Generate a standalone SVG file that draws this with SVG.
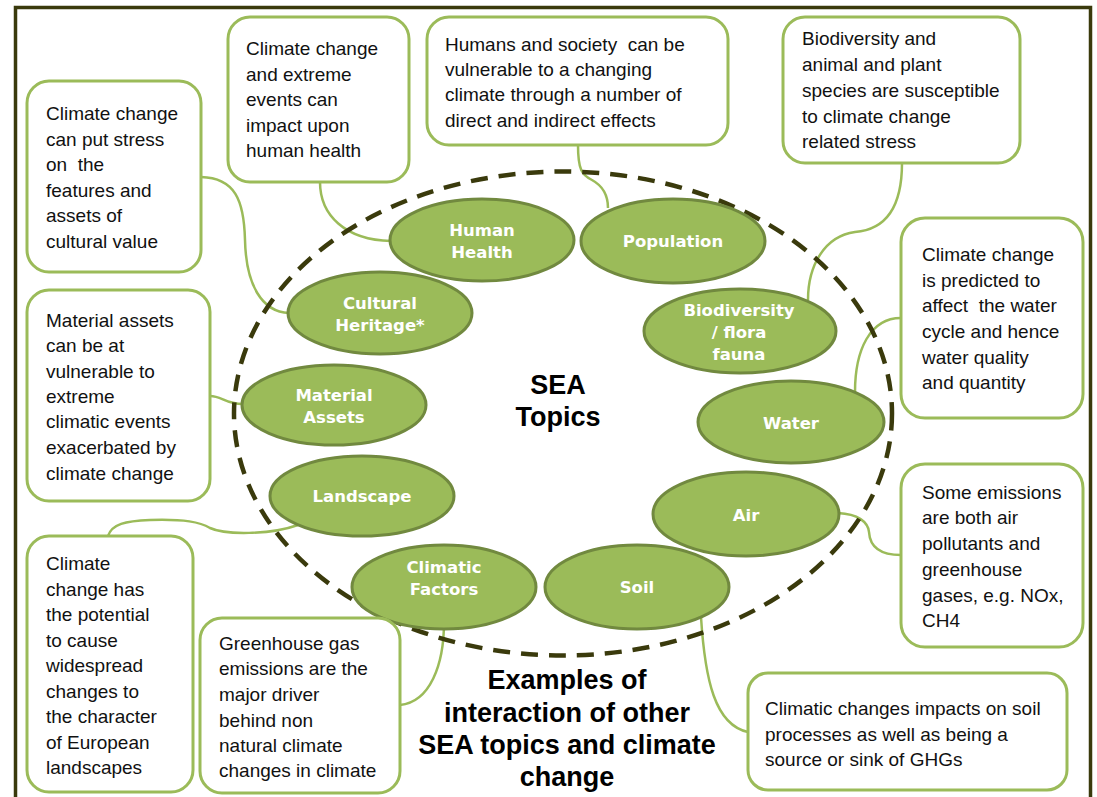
<svg xmlns="http://www.w3.org/2000/svg" width="1097" height="797" viewBox="0 0 1097 797">
  <style>
    .frame { fill: #ffffff; stroke: #3a3a0c; stroke-width: 3.5; }
    .ring { fill: none; stroke: #3a3a0c; stroke-width: 4.5; stroke-dasharray: 17 11; }
    .box { fill: #ffffff; stroke: #9bbb59; stroke-width: 3; }
    .topic { fill: #9bbb59; stroke: #71893f; stroke-width: 3; }
    .link { fill: none; stroke: #9bbb59; stroke-width: 2.5; }
    .note { font-family: "Liberation Sans", Arial, sans-serif; font-size: 19px; fill: #111111; dominant-baseline: central; }
    .label { font-family: "DejaVu Sans", Verdana, sans-serif; font-weight: bold; font-size: 16.5px; fill: #ffffff; text-anchor: middle; dominant-baseline: central; }
    .title { font-family: "Liberation Sans", Arial, sans-serif; font-weight: bold; font-size: 27px; fill: #000000; text-anchor: middle; dominant-baseline: central; }
  </style>

  <!-- outer border -->
  <rect class="frame" x="15.5" y="7.5" width="1075" height="800"/>

  <!-- connectors from the note boxes to the topic ellipses -->
  <g id="connectors">
    <path class="link" d="M201,177 C235,178 244,200 245,240 C246,285 262,312 289,313"/>
    <path class="link" d="M320,182 C320,215 345,240 391,241"/>
    <path class="link" d="M578,145 C578,170 582,175 592,180 C603,186 608,195 608,208"/>
    <path class="link" d="M902,163 C902,215 880,230 855,232 C825,236 808,265 808,300"/>
    <path class="link" d="M901,318 C870,318 855,350 855,392"/>
    <path class="link" d="M838,513 C858,514 868,522 869,532 C870,548 882,555 901,555"/>
    <path class="link" d="M701,617 C705,680 715,725 748,732"/>
    <path class="link" d="M444,622 C444,665 430,702 400,705"/>
    <path class="link" d="M108,536 C112,524 125,521 150,520 C185,519 200,522 210,528 C225,535 270,535 298,525"/>
    <path class="link" d="M210,396 C222,396 225,404 243,404"/>
  </g>

  <!-- dashed ring around the topics -->
  <ellipse class="ring" cx="563" cy="413.5" rx="329" ry="242"/>

  <g id="centre-title">
    <text class="title" x="558" y="385">SEA</text>
    <text class="title" x="558" y="417">Topics</text>
  </g>

  <!-- topic ellipses -->
  <g id="topic-human-health">
    <ellipse class="topic" cx="482" cy="240" rx="92" ry="41"/>
    <text class="label" x="482" y="230">Human</text>
    <text class="label" x="482" y="252">Health</text>
  </g>
  <g id="topic-population">
    <ellipse class="topic" cx="673" cy="241" rx="92" ry="42"/>
    <text class="label" x="673" y="241">Population</text>
  </g>
  <g id="topic-cultural-heritage">
    <ellipse class="topic" cx="380" cy="313" rx="92" ry="41"/>
    <text class="label" x="380" y="303">Cultural</text>
    <text class="label" x="380" y="325">Heritage*</text>
  </g>
  <g id="topic-biodiversity">
    <ellipse class="topic" cx="740" cy="331" rx="96" ry="42"/>
    <text class="label" x="739" y="310">Biodiversity</text>
    <text class="label" x="739" y="332">/ flora</text>
    <text class="label" x="739" y="354">fauna</text>
  </g>
  <g id="topic-material-assets">
    <ellipse class="topic" cx="334" cy="405" rx="92" ry="40"/>
    <text class="label" x="334" y="395">Material</text>
    <text class="label" x="334" y="417">Assets</text>
  </g>
  <g id="topic-water">
    <ellipse class="topic" cx="791" cy="422" rx="93" ry="41"/>
    <text class="label" x="791" y="423">Water</text>
  </g>
  <g id="topic-landscape">
    <ellipse class="topic" cx="362" cy="496" rx="92" ry="40"/>
    <text class="label" x="362" y="496">Landscape</text>
  </g>
  <g id="topic-air">
    <ellipse class="topic" cx="746" cy="514" rx="93" ry="42"/>
    <text class="label" x="746" y="515">Air</text>
  </g>
  <g id="topic-climatic-factors">
    <ellipse class="topic" cx="444" cy="587" rx="92" ry="42"/>
    <text class="label" x="444" y="567">Climatic</text>
    <text class="label" x="444" y="589">Factors</text>
  </g>
  <g id="topic-soil">
    <ellipse class="topic" cx="637" cy="587" rx="92" ry="42"/>
    <text class="label" x="637" y="587">Soil</text>
  </g>

  <!-- note boxes -->
  <g id="note-cultural">
    <rect class="box" x="27" y="81" width="174" height="191" rx="22"/>
    <text class="note" x="46" y="113">Climate change</text>
    <text class="note" x="46" y="139">can put stress</text>
    <text class="note" x="46" y="164" xml:space="preserve">on  the</text>
    <text class="note" x="46" y="190">features and</text>
    <text class="note" x="46" y="215">assets of</text>
    <text class="note" x="46" y="241">cultural value</text>
  </g>
  <g id="note-health">
    <rect class="box" x="228" y="17" width="181" height="165" rx="22"/>
    <text class="note" x="246" y="48">Climate change</text>
    <text class="note" x="246" y="74">and extreme</text>
    <text class="note" x="246" y="99">events can</text>
    <text class="note" x="246" y="125">impact upon</text>
    <text class="note" x="246" y="150">human health</text>
  </g>
  <g id="note-population">
    <rect class="box" x="427" y="17" width="301" height="128" rx="22"/>
    <text class="note" x="445" y="44" xml:space="preserve">Humans and society  can be</text>
    <text class="note" x="445" y="69">vulnerable to a changing</text>
    <text class="note" x="445" y="94">climate through a number of</text>
    <text class="note" x="445" y="120">direct and indirect effects</text>
  </g>
  <g id="note-biodiversity">
    <rect class="box" x="783" y="17" width="237" height="146" rx="22"/>
    <text class="note" x="802" y="38">Biodiversity and</text>
    <text class="note" x="802" y="64">animal and plant</text>
    <text class="note" x="802" y="90">species are susceptible</text>
    <text class="note" x="802" y="116">to climate change</text>
    <text class="note" x="802" y="141">related stress</text>
  </g>
  <g id="note-water">
    <rect class="box" x="901" y="218" width="182" height="200" rx="24"/>
    <text class="note" x="922" y="254">Climate change</text>
    <text class="note" x="922" y="280">is predicted to</text>
    <text class="note" x="922" y="305" xml:space="preserve">affect  the water</text>
    <text class="note" x="922" y="331">cycle and hence</text>
    <text class="note" x="922" y="357">water quality</text>
    <text class="note" x="922" y="382">and quantity</text>
  </g>
  <g id="note-air">
    <rect class="box" x="901" y="464" width="182" height="183" rx="24"/>
    <text class="note" x="922" y="492">Some emissions</text>
    <text class="note" x="922" y="517">are both air</text>
    <text class="note" x="922" y="543">pollutants and</text>
    <text class="note" x="922" y="569">greenhouse</text>
    <text class="note" x="922" y="595">gases, e.g. NOx,</text>
    <text class="note" x="922" y="620">CH4</text>
  </g>
  <g id="note-soil">
    <rect class="box" x="748" y="673" width="319" height="117" rx="20"/>
    <text class="note" x="765" y="708">Climatic changes impacts on soil</text>
    <text class="note" x="765" y="734">processes as well as being a</text>
    <text class="note" x="765" y="759">source or sink of GHGs</text>
  </g>
  <g id="note-climatic">
    <rect class="box" x="200" y="618" width="200" height="175" rx="22"/>
    <text class="note" x="219" y="643">Greenhouse gas</text>
    <text class="note" x="219" y="668">emissions are the</text>
    <text class="note" x="219" y="694">major driver</text>
    <text class="note" x="219" y="720">behind non</text>
    <text class="note" x="219" y="745">natural climate</text>
    <text class="note" x="219" y="770">changes in climate</text>
  </g>
  <g id="note-landscape">
    <rect class="box" x="27" y="536" width="166" height="256" rx="22"/>
    <text class="note" x="46" y="563">Climate</text>
    <text class="note" x="46" y="589">change has</text>
    <text class="note" x="46" y="614">the potential</text>
    <text class="note" x="46" y="640">to cause</text>
    <text class="note" x="46" y="665">widespread</text>
    <text class="note" x="46" y="691">changes to</text>
    <text class="note" x="46" y="716">the character</text>
    <text class="note" x="46" y="742">of European</text>
    <text class="note" x="46" y="767">landscapes</text>
  </g>
  <g id="note-material">
    <rect class="box" x="27" y="290" width="183" height="211" rx="22"/>
    <text class="note" x="46" y="320">Material assets</text>
    <text class="note" x="46" y="345">can be at</text>
    <text class="note" x="46" y="371">vulnerable to</text>
    <text class="note" x="46" y="396">extreme</text>
    <text class="note" x="46" y="421">climatic events</text>
    <text class="note" x="46" y="447">exacerbated by</text>
    <text class="note" x="46" y="473">climate change</text>
  </g>

  <g id="caption">
    <text class="title" x="567" y="680">Examples of</text>
    <text class="title" x="567" y="713">interaction of other</text>
    <text class="title" x="567" y="745">SEA topics and climate</text>
    <text class="title" x="567" y="777">change</text>
  </g>
</svg>
